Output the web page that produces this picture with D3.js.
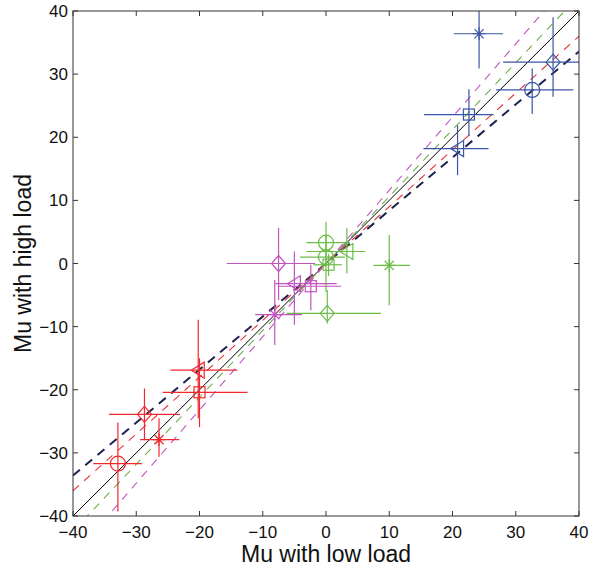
<!DOCTYPE html>
<html><head><meta charset="utf-8">
<script src="https://cdn.jsdelivr.net/npm/d3@7"></script>
<style>body{margin:0;background:#fff}svg{display:block}text{font-family:"Liberation Sans",Arial,sans-serif;fill:#111}</style>
</head><body>
<script>
// ---- data ----
const xTicks = [-40,-30,-20,-10,0,10,20,30,40];
const yTicks = [-40,-30,-20,-10,0,10,20,30,40];
const groupNames = ["blue","red","green","magenta"];
const groupColors = ["#3a55a4","#f0282e","#6cbd48","#c055c0"];
// one entry per plotted point
const ptGroup  = ["blue","blue","blue","blue","blue",
                  "red","red","red","red","red",
                  "green","green","green","green","green","green",
                  "magenta","magenta","magenta","magenta"];
const ptMarker = ["star","diamond","circle","square","triangle",
                  "circle","diamond","star","square","triangle",
                  "circle","circle","square","triangle","star","diamond",
                  "diamond","triangle","square","star"];
const ptX   = [24.2, 35.9, 32.6, 22.6, 20.8,  -32.9,-28.7,-26.4,-20.0,-20.2,  0.0, 0.0, 0.4, 3.3,10.0, 0.2,  -7.5,-5.0,-2.4,-8.1];
const ptY   = [36.4, 31.9, 27.5, 23.6, 18.2,  -31.7,-23.9,-27.9,-20.4,-16.9,  3.3, 1.0,-0.2, 1.9,-0.3,-7.9,   0.0,-3.2,-3.6,-8.1];
const ptXlo = [20.2, 28.0, 26.9, 15.5, 15.4,  -36.8,-34.3,-29.4,-25.8,-24.6, -3.1,-4.1,-2.0,-3.1, 7.5,-6.2, -15.7,-8.0,-7.5,-11.2];
const ptXhi = [28.0, 43.8, 39.1, 26.5, 25.7,  -29.1,-23.1,-23.2,-12.4,-14.0,  3.8, 3.0, 2.5, 6.2,13.3, 8.7,  -1.7, 1.7, 2.4,-3.8];
const ptYlo = [30.9, 26.4, 23.7, 20.2, 14.0,  -39.3,-28.0,-30.6,-25.9,-24.5, -0.5,-4.5,-2.0,-1.6,-6.6,-9.5,  -5.8,-9.7,-7.4,-12.9];
const ptYhi = [41.9, 39.0, 30.9, 27.6, 21.9,  -25.2,-19.8,-24.5,-15.0, -8.9,  6.6, 4.5, 1.5, 5.6, 4.5,-4.2,   5.6, 1.9,-0.2,-2.6];
// regression lines through origin
const fitSlopes = [0.84, 0.90, 1.06, 1.16];
const fitColors = ["#1c2250","#e8323a","#6cb04a","#c055c0"];

// ---- layout ----
const W = 600, H = 572;
const L = 73, R = 579, T = 11, B = 516;
const svg = d3.select("body").append("svg").attr("width", W).attr("height", H);
const x = d3.scaleLinear().domain([-40,40]).range([L,R]);
const y = d3.scaleLinear().domain([-40,40]).range([B,T]);
const colorOf = d3.scaleOrdinal().domain(groupNames).range(groupColors);

svg.append("defs").append("clipPath").attr("id","clip")
  .append("rect").attr("x",L).attr("y",T).attr("width",R-L).attr("height",B-T);
const plot = svg.append("g").attr("clip-path","url(#clip)");

// y = x line
plot.append("line").attr("x1",x(-40)).attr("y1",y(-40)).attr("x2",x(40)).attr("y2",y(40))
  .attr("stroke","#000").attr("stroke-width",1);

// fit lines
fitSlopes.forEach((s,i)=>{
  plot.append("line")
    .attr("x1",x(-40)).attr("y1",y(-40*s)).attr("x2",x(40)).attr("y2",y(40*s))
    .attr("stroke",fitColors[i])
    .attr("stroke-width", i===0 ? 2 : 1.1)
    .attr("stroke-dasharray", i===0 ? "9,7" : "8,7");
});

// points
const pts = ptX.map((v,i)=>({g:ptGroup[i],m:ptMarker[i],x:v,y:ptY[i],xlo:ptXlo[i],xhi:ptXhi[i],ylo:ptYlo[i],yhi:ptYhi[i]}));
const pg = plot.selectAll("g.pt").data(pts).join("g").attr("class","pt")
  .attr("stroke",d=>colorOf(d.g)).attr("fill","none").attr("stroke-width",1.2);
pg.append("line").attr("x1",d=>x(d.xlo)).attr("x2",d=>x(d.xhi)).attr("y1",d=>y(d.y)).attr("y2",d=>y(d.y));
pg.append("line").attr("x1",d=>x(d.x)).attr("x2",d=>x(d.x)).attr("y1",d=>y(d.ylo)).attr("y2",d=>y(d.yhi));
pg.each(function(d){
  const g = d3.select(this), cx = x(d.x), cy = y(d.y);
  if (d.m==="circle") g.append("circle").attr("cx",cx).attr("cy",cy).attr("r",7.5);
  else if (d.m==="square") g.append("rect").attr("x",cx-5.5).attr("y",cy-5.5).attr("width",11).attr("height",11);
  else if (d.m==="diamond") g.append("path").attr("d",`M${cx},${cy-8}L${cx+7},${cy}L${cx},${cy+8}L${cx-7},${cy}Z`);
  else if (d.m==="triangle") g.append("path").attr("d",`M${cx-7},${cy}L${cx+6},${cy-8}L${cx+6},${cy+8}Z`);
  else if (d.m==="star") {
    const r=6.5, a=r*0.7071;
    g.append("path").attr("d",`M${cx-r},${cy}L${cx+r},${cy}M${cx},${cy-r}L${cx},${cy+r}M${cx-a},${cy-a}L${cx+a},${cy+a}M${cx-a},${cy+a}L${cx+a},${cy-a}`);
  }
});

// axes box with inward ticks
const axCol = "#333";
const ax = svg.append("g");
ax.append("rect").attr("x",L).attr("y",T).attr("width",R-L).attr("height",B-T)
  .attr("fill","none").attr("stroke",axCol).attr("stroke-width",1);
const tl = 5;
xTicks.forEach(t=>{
  ax.append("line").attr("x1",x(t)).attr("x2",x(t)).attr("y1",B).attr("y2",B-tl).attr("stroke",axCol);
  ax.append("line").attr("x1",x(t)).attr("x2",x(t)).attr("y1",T).attr("y2",T+tl).attr("stroke",axCol);
});
yTicks.forEach(t=>{
  ax.append("line").attr("x1",L).attr("x2",L+tl).attr("y1",y(t)).attr("y2",y(t)).attr("stroke",axCol);
  ax.append("line").attr("x1",R).attr("x2",R-tl).attr("y1",y(t)).attr("y2",y(t)).attr("stroke",axCol);
});
const fmt = v => v<0 ? "\u2212"+Math.abs(v) : String(v);
svg.append("g").selectAll("text").data(xTicks).join("text")
  .attr("x",d=>x(d)).attr("y",B+22).attr("text-anchor","middle").attr("font-size",17).text(fmt);
svg.append("g").selectAll("text").data(yTicks).join("text")
  .attr("x",L-5).attr("y",d=>y(d)+6).attr("text-anchor","end").attr("font-size",17).text(fmt);

svg.append("text").attr("x",(L+R)/2).attr("y",562).attr("text-anchor","middle").attr("font-size",23).text("Mu with low load");
svg.append("text").attr("transform",`translate(31,${(T+B)/2}) rotate(-90)`).attr("text-anchor","middle").attr("font-size",23).text("Mu with high load");
</script>
</body></html>
